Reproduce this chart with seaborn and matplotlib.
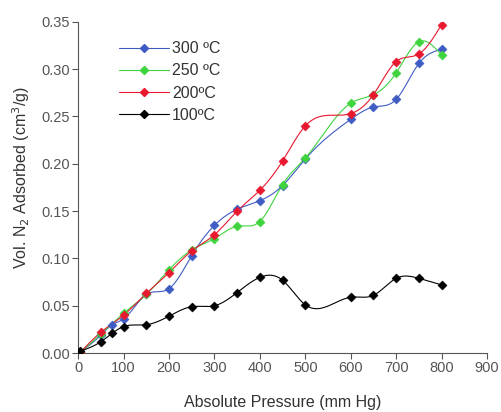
import numpy as np
import pandas as pd
import matplotlib
matplotlib.use("Agg")
import matplotlib.pyplot as plt
from matplotlib.lines import Line2D
import seaborn as sns

# Nitrogen adsorption at different activation temperatures
x_300 = [5, 50, 75, 100, 150, 200, 250, 300, 350, 400, 450, 500, 600, 650, 700, 750, 800]
y_300 = [0.001, 0.019, 0.030, 0.036, 0.062, 0.068, 0.103, 0.135, 0.152, 0.161, 0.177, 0.205,
         0.247, 0.260, 0.268, 0.306, 0.321]

x_250 = [5, 50, 100, 150, 200, 250, 300, 350, 400, 450, 500, 600, 650, 700, 750, 800]
y_250 = [0.001, 0.020, 0.042, 0.062, 0.088, 0.109, 0.121, 0.134, 0.139, 0.178, 0.206,
         0.264, 0.273, 0.296, 0.329, 0.315]

x_200 = [5, 50, 100, 150, 200, 250, 300, 350, 400, 450, 500, 600, 650, 700, 750, 800]
y_200 = [0.001, 0.022, 0.040, 0.063, 0.085, 0.108, 0.125, 0.150, 0.172, 0.203, 0.240,
         0.253, 0.273, 0.308, 0.316, 0.347]

x_100 = [5, 50, 75, 100, 150, 200, 250, 300, 350, 400, 450, 500, 600, 650, 700, 750, 800]
y_100 = [0.002, 0.012, 0.021, 0.028, 0.030, 0.039, 0.049, 0.050, 0.064, 0.080, 0.077,
         0.051, 0.059, 0.061, 0.079, 0.079, 0.072]

labels = ["300 ºC", "250 ºC", "200ºC", "100ºC"]
colors = ["#3f5cc4", "#3ed43e", "#e8182e", "#000000"]
series = [(x_300, y_300), (x_250, y_250), (x_200, y_200), (x_100, y_100)]

x_ticks = list(range(0, 901, 100))
y_ticks = [0.00, 0.05, 0.10, 0.15, 0.20, 0.25, 0.30, 0.35]


def spline_line(xs, ys, steps=25):
    """Natural cubic spline through the measured points (connecting line only)."""
    x = np.asarray(xs, float)
    y = np.asarray(ys, float)
    n = len(x)
    h = np.diff(x)
    A = np.zeros((n, n))
    b = np.zeros(n)
    A[0, 0] = A[-1, -1] = 1.0
    for i in range(1, n - 1):
        A[i, i - 1] = h[i - 1]
        A[i, i] = 2 * (h[i - 1] + h[i])
        A[i, i + 1] = h[i]
        b[i] = 6 * ((y[i + 1] - y[i]) / h[i] - (y[i] - y[i - 1]) / h[i - 1])
    m = np.linalg.solve(A, b)
    cx, cy = [], []
    for i in range(n - 1):
        t = np.linspace(x[i], x[i + 1], steps, endpoint=(i == n - 2))
        a = (x[i + 1] - t) / h[i]
        c = (t - x[i]) / h[i]
        s = (a * y[i] + c * y[i + 1]
             + ((a ** 3 - a) * m[i] + (c ** 3 - c) * m[i + 1]) * h[i] ** 2 / 6)
        cx.append(t)
        cy.append(s)
    return np.concatenate(cx), np.concatenate(cy)


sns.set_theme(style="ticks")
plt.rcParams["font.family"] = ["Liberation Sans", "DejaVu Sans"]

fig = plt.figure(figsize=(5.01, 4.12), dpi=100)
ax = fig.add_axes([0.156, 0.143, 0.816, 0.804])

handles = []
for (xs, ys), lab, col in zip(series, labels, colors):
    cx, cy = spline_line(xs, ys)
    ax.plot(cx, cy, color=col, lw=0.8, zorder=2)
    df = pd.DataFrame({"p": xs, "v": ys})
    sns.scatterplot(data=df, x="p", y="v", ax=ax, marker="D", s=22, color=col,
                    edgecolor=col, linewidth=0.3, zorder=3, legend=False)
    handles.append(Line2D([0], [0], color=col, lw=0.8, marker="D", markersize=4.5,
                          markerfacecolor=col, markeredgecolor=col, label=lab))

ax.set_xlim(0, 900)
ax.set_ylim(0, 0.35)
ax.set_xticks(x_ticks)
ax.set_yticks(y_ticks)
ax.set_yticklabels([f"{v:.2f}" for v in y_ticks])
ax.tick_params(axis="both", labelsize=10.5, colors="#555555", labelcolor="#555555",
               length=4, width=0.8, pad=2)
for s in ["top", "right"]:
    ax.spines[s].set_visible(False)
for s in ["left", "bottom"]:
    ax.spines[s].set_color("#555555")
    ax.spines[s].set_linewidth(0.8)

ax.set_xlabel("Absolute Pressure (mm Hg)", fontsize=11.5, color="#333333", labelpad=14)
ax.set_ylabel("Vol. N$_2$ Adsorbed (cm$^3$/g)", fontsize=11.5, color="#333333", labelpad=4)
ax.yaxis.set_label_coords(-0.112, 0.53)

ax.legend(handles=handles, loc="upper left", bbox_to_anchor=(0.065, 0.985), frameon=False,
          fontsize=11.5, handlelength=3.1, handletextpad=0.2, labelspacing=0.45,
          borderpad=0.4, labelcolor="#333333")

fig.savefig("out.png", dpi=100)
